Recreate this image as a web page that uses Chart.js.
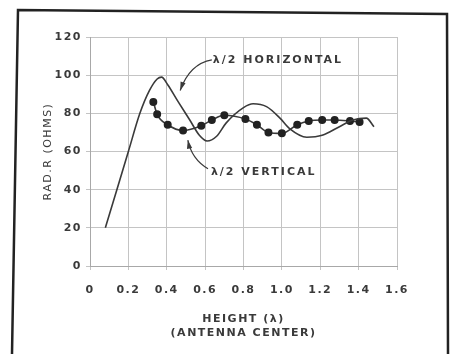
<!DOCTYPE html>
<html>
<head>
<meta charset="utf-8">
<script src="https://cdn.jsdelivr.net/npm/chart.js@4/dist/chart.umd.min.js"></script>
<style>
  html, body { margin: 0; padding: 0; background: #fff; }
  #wrap { width: 453px; height: 354px; }
</style>
</head>
<body>
<div id="wrap"><canvas id="radChart"></canvas></div>
<script>
// height in wavelengths vs radiation resistance (ohms)
const horizX = [0.08, 0.2, 0.26, 0.31, 0.35, 0.373, 0.405, 0.46, 0.52, 0.57, 0.61, 0.66, 0.71, 0.80, 0.85, 0.92, 0.99, 1.04, 1.13, 1.21, 1.30, 1.37, 1.44, 1.48];
const horizR = [20, 60, 80, 92, 98, 99, 95, 86, 76.5, 68.5, 65.5, 68, 75, 83, 85, 83.5, 77.5, 72, 67.5, 68.5, 73, 76.5, 77.5, 73];

const vertX = [0.33, 0.35, 0.405, 0.485, 0.58, 0.635, 0.70, 0.81, 0.87, 0.93, 1.00, 1.08, 1.14, 1.21, 1.275, 1.355, 1.405];
const vertR = [86, 79.5, 74, 71, 73.5, 76.5, 79, 77, 74, 70, 69.5, 74, 76, 76.5, 76.5, 76, 75.5];

const xTicks = ['0', '0.2', '0.4', '0.6', '0.8', '1.0', '1.2', '1.4', '1.6'];
const yTicks = ['0', '20', '40', '60', '80', '100', '120'];

const ink = '#3a3a3a';
const font = 'DejaVu Sans';

const toPoints = (xs, ys) => xs.map((x, i) => ({ x: x, y: ys[i] }));

// callout labels with their curved arrows (data coords)
const callouts = [
  { text: '\u03bb/2 HORIZONTAL', at: [0.64, 108], from: [0.635, 108], ctrl: [0.52, 106], to: [0.47, 92] },
  { text: '\u03bb/2 VERTICAL', at: [0.63, 49], from: [0.615, 51], ctrl: [0.53, 56], to: [0.51, 66] }
];

const pagePlugin = {
  id: 'page',
  beforeDraw(chart) {
    const ctx = chart.ctx;
    ctx.save();
    ctx.fillStyle = '#fff';
    ctx.fillRect(0, 0, chart.width, chart.height);
    ctx.restore();
    ctx.letterSpacing = '1.5px';
  },
  afterDatasetsDraw(chart) {
    const { ctx, scales: { x, y } } = chart;
    ctx.save();
    ctx.fillStyle = ink;
    ctx.strokeStyle = ink;
    ctx.lineWidth = 1.2;
    ctx.font = 'bold 11px "' + font + '"';
    ctx.letterSpacing = '2px';
    ctx.textBaseline = 'middle';
    callouts.forEach(c => {
      ctx.fillText(c.text, x.getPixelForValue(c.at[0]), y.getPixelForValue(c.at[1]));
      const fx = x.getPixelForValue(c.from[0]), fy = y.getPixelForValue(c.from[1]);
      const cx = x.getPixelForValue(c.ctrl[0]), cy = y.getPixelForValue(c.ctrl[1]);
      const tx = x.getPixelForValue(c.to[0]), ty = y.getPixelForValue(c.to[1]);
      ctx.beginPath();
      ctx.moveTo(fx, fy);
      ctx.quadraticCurveTo(cx, cy, tx, ty);
      ctx.stroke();
      const a = Math.atan2(ty - cy, tx - cx);
      ctx.beginPath();
      ctx.moveTo(tx, ty);
      ctx.lineTo(tx - 9 * Math.cos(a - 0.3), ty - 9 * Math.sin(a - 0.3));
      ctx.lineTo(tx - 9 * Math.cos(a + 0.3), ty - 9 * Math.sin(a + 0.3));
      ctx.closePath();
      ctx.fill();
    });
    ctx.restore();
  },
  afterDraw(chart) {
    const ctx = chart.ctx;
    ctx.save();
    ctx.strokeStyle = '#222';
    ctx.lineWidth = 2.5;
    ctx.beginPath();
    ctx.moveTo(12, 354);
    ctx.lineTo(18, 10);
    ctx.lineTo(447, 14);
    ctx.lineTo(448, 354);
    ctx.stroke();
    ctx.restore();
  }
};

new Chart(document.getElementById('radChart'), {
  type: 'line',
  data: {
    datasets: [
      {
        label: '\u03bb/2 Horizontal',
        data: toPoints(horizX, horizR),
        borderColor: ink,
        borderWidth: 1.6,
        pointRadius: 0,
        cubicInterpolationMode: 'monotone',
        fill: false
      },
      {
        label: '\u03bb/2 Vertical',
        data: toPoints(vertX, vertR),
        borderColor: ink,
        borderWidth: 1.6,
        pointRadius: 3.2,
        pointBackgroundColor: '#222',
        pointBorderColor: '#222',
        cubicInterpolationMode: 'monotone',
        fill: false
      }
    ]
  },
  options: {
    responsive: true,
    maintainAspectRatio: false,
    animation: false,
    layout: { padding: { top: 37, right: 56, left: 0, bottom: 0 } },
    plugins: { legend: { display: false }, tooltip: { enabled: false } },
    scales: {
      x: {
        type: 'linear',
        min: 0,
        max: 1.6,
        afterFit: s => { s.height = 88; },
        grid: { color: '#c4c4c4', lineWidth: 1, tickLength: 4 },
        border: { color: '#a8a8a8' },
        ticks: {
          stepSize: 0.2,
          padding: 14,
          color: ink,
          font: { family: font, size: 11, weight: 'bold' },
          callback: (v, i) => xTicks[i]
        },
        title: {
          display: true,
          text: ['HEIGHT (\u03bb)', '(ANTENNA CENTER)'],
          color: ink,
          font: { family: font, size: 11, weight: 'bold', lineHeight: 1.25 },
          padding: { top: 0, bottom: 14 }
        }
      },
      y: {
        min: 0,
        max: 120,
        afterFit: s => { s.width = 90; },
        grid: { color: '#c4c4c4', lineWidth: 1, tickLength: 4 },
        border: { color: '#a8a8a8' },
        ticks: {
          stepSize: 20,
          padding: 4,
          color: ink,
          font: { family: font, size: 11, weight: 'bold' },
          callback: (v, i) => yTicks[i]
        },
        title: {
          display: true,
          text: 'RAD.R (OHMS)',
          color: ink,
          font: { family: font, size: 11, lineHeight: 1.25 },
          padding: { top: 41, bottom: 0 }
        }
      }
    }
  },
  plugins: [pagePlugin]
});
</script>
</body>
</html>
